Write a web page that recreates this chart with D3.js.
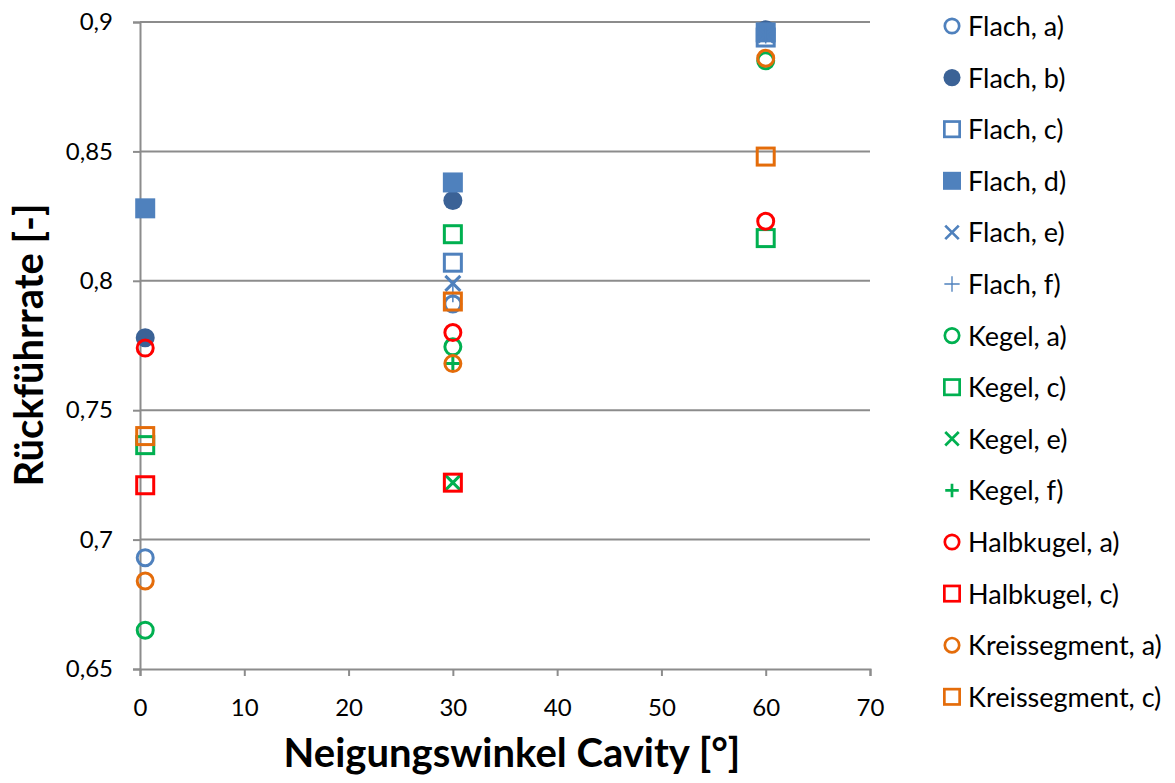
<!DOCTYPE html>
<html>
<head>
<meta charset="utf-8">
<script src="https://cdn.jsdelivr.net/npm/d3@7"></script>
<style>
  body { margin: 0; background: #fff; }
  text { font-family: Lato, "Open Sans", sans-serif; fill: #000; }
</style>
</head>
<body>
<script>
// series names, colours, symbols
var seriesNames = ["Flach, a)", "Flach, b)", "Flach, c)", "Flach, d)", "Flach, e)", "Flach, f)",
  "Kegel, a)", "Kegel, c)", "Kegel, e)", "Kegel, f)", "Halbkugel, a)", "Halbkugel, c)",
  "Kreissegment, a)", "Kreissegment, c)"];
var seriesColors = ["#4F81BD", "#3B6296", "#4F81BD", "#4F81BD", "#4F81BD", "#4F81BD",
  "#00B050", "#00B050", "#00B050", "#00B050", "#FF0000", "#FF0000", "#E46C0A", "#E46C0A"];
var seriesShapes = ["circle", "dot", "square", "fsquare", "cross", "plus",
  "circle", "square", "cross", "plusBold", "circle", "square", "circle", "square"];

// x values (Neigungswinkel) and y values per series, null = no point
var angles = [0.5, 30, 60];
var flachA = [0.693, 0.791, 0.896];
var flachB = [0.778, 0.831, 0.897];
var flachC = [null, 0.807, 0.894];
var flachD = [0.828, 0.838, 0.896];
var flachE = [null, 0.799, 0.895];
var flachF = [null, 0.795, 0.895];
var kegelA = [0.665, 0.7745, 0.885];
var kegelC = [0.7365, 0.818, 0.8165];
var kegelE = [null, 0.722, null];
var kegelF = [null, 0.768, null];
var halbA = [0.774, 0.780, 0.823];
var halbC = [0.721, 0.722, null];
var kreisA = [0.684, 0.768, 0.886];
var kreisC = [0.740, 0.792, 0.848];
var allValues = [flachA, flachB, flachC, flachD, flachE, flachF, kegelA, kegelC, kegelE, kegelF,
  halbA, halbC, kreisA, kreisC];

var xTicks = [0, 10, 20, 30, 40, 50, 60, 70];
var yTicks = [0.65, 0.7, 0.75, 0.8, 0.85, 0.9];

var width = 1175, height = 783;
var plotLeft = 140, plotRight = 870, plotTop = 22, plotBottom = 669;

var svg = d3.select("body").append("svg").attr("width", width).attr("height", height);

var x = d3.scaleLinear().domain([0, 70]).range([plotLeft, plotRight]);
var y = d3.scaleLinear().domain([0.65, 0.9]).range([plotBottom, plotTop]);
var fmt = function(d) { return d3.format("")(d).replace(".", ","); };

// horizontal gridlines
svg.append("g").selectAll("line").data(yTicks.slice(1)).enter().append("line")
  .attr("x1", plotLeft).attr("x2", plotRight)
  .attr("y1", function(d) { return y(d); }).attr("y2", function(d) { return y(d); })
  .attr("stroke", "#8C8C8C").attr("stroke-width", 2);

// axes
var yAxis = svg.append("g").attr("transform", "translate(" + plotLeft + ",0)")
  .call(d3.axisLeft(y).tickValues(yTicks).tickFormat(fmt).tickSize(7).tickPadding(20));
var xAxis = svg.append("g").attr("transform", "translate(0," + plotBottom + ")")
  .call(d3.axisBottom(x).tickValues(xTicks).tickSize(7).tickPadding(23));
[yAxis, xAxis].forEach(function(a) {
  a.select(".domain").attr("stroke", "#8C8C8C").attr("stroke-width", 2);
  a.selectAll(".tick line").attr("stroke", "#8C8C8C").attr("stroke-width", 2);
  a.selectAll("text").style("font-size", "24px").attr("fill", "#000");
});

// axis titles
svg.append("text").attr("x", 512).attr("y", 767).attr("text-anchor", "middle")
  .style("font-size", "40px").style("font-weight", "bold").text("Neigungswinkel Cavity [°]");
svg.append("text").attr("transform", "translate(43,345) rotate(-90)").attr("text-anchor", "middle")
  .style("font-size", "40px").style("font-weight", "bold").text("Rückführrate [-]");

function drawMarker(g, shape, color) {
  if (shape === "circle") {
    g.append("circle").attr("r", 8).attr("fill", "none").attr("stroke", color).attr("stroke-width", 3);
  } else if (shape === "dot") {
    g.append("circle").attr("r", 9.5).attr("fill", color);
  } else if (shape === "square") {
    g.append("rect").attr("x", -8.5).attr("y", -8.5).attr("width", 17).attr("height", 17)
      .attr("fill", "none").attr("stroke", color).attr("stroke-width", 3);
  } else if (shape === "fsquare") {
    g.append("rect").attr("x", -10).attr("y", -10).attr("width", 20).attr("height", 20).attr("fill", color);
  } else if (shape === "cross") {
    g.append("path").attr("d", "M-7.5,-7.5L7.5,7.5M-7.5,7.5L7.5,-7.5").attr("stroke", color).attr("stroke-width", 3);
  } else if (shape === "plus") {
    g.append("path").attr("d", "M-8.5,0L8.5,0M0,-8.5L0,8.5").attr("stroke", color).attr("stroke-width", 1.5);
  } else if (shape === "plusBold") {
    g.append("path").attr("d", "M-7.5,0L7.5,0M0,-7.5L0,7.5").attr("stroke", color).attr("stroke-width", 3);
  }
}

// points
allValues.forEach(function(vals, s) {
  vals.forEach(function(v, i) {
    if (v === null) return;
    var g = svg.append("g").attr("transform", "translate(" + x(angles[i]) + "," + y(v) + ")");
    drawMarker(g, seriesShapes[s], seriesColors[s]);
  });
});

// legend
var legend = svg.append("g").selectAll("g").data(seriesNames).enter().append("g")
  .attr("transform", function(d, i) { return "translate(952," + (26 + i * 51.6) + ")"; });
legend.each(function(d, i) {
  var g = d3.select(this);
  drawMarker(g.append("g").attr("transform", "scale(0.9)"), seriesShapes[i], seriesColors[i]);
  g.append("text").attr("x", 16).attr("y", 10).style("font-size", "27px").text(d);
});
</script>
</body>
</html>
